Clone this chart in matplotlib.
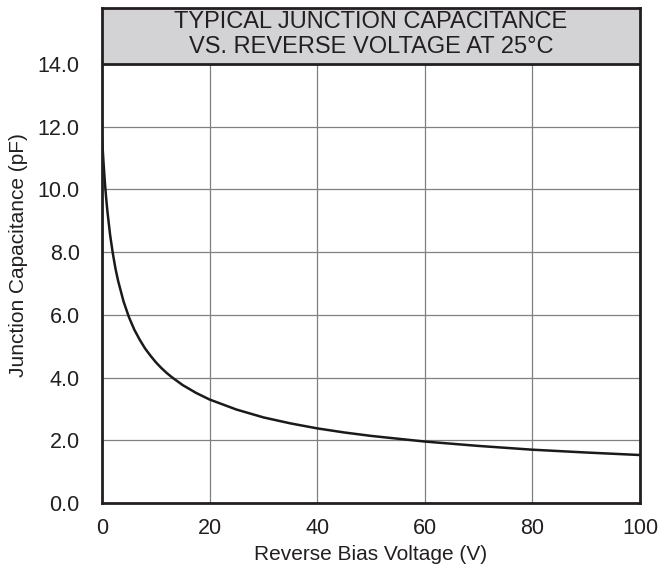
import matplotlib
matplotlib.use("Agg")
import matplotlib.pyplot as plt

plt.rcParams['font.family'] = ['Liberation Sans', 'DejaVu Sans']

# Valores
voltaje = [0, 0.1, 0.25, 0.5, 0.75, 1, 1.5, 2, 2.5, 3, 4, 5, 6, 7, 8, 9, 10,
           11, 12, 13, 15, 17.5, 20, 25, 30, 35, 40, 45, 50, 60, 70, 80, 90, 100]
capacitancia = [11.7, 11.38, 10.94, 10.30, 9.77, 9.31, 8.56, 7.97, 7.48, 7.08,
                6.43, 5.93, 5.53, 5.21, 4.93, 4.70, 4.49, 4.31, 4.15, 4.01,
                3.76, 3.51, 3.30, 2.98, 2.73, 2.54, 2.38, 2.25, 2.14, 1.96,
                1.82, 1.70, 1.61, 1.53]

xticks = [0, 20, 40, 60, 80, 100]
yticks = [0, 2, 4, 6, 8, 10, 12, 14]
titulo = "TYPICAL JUNCTION CAPACITANCE\nVS. REVERSE VOLTAGE AT 25°C"

fig = plt.figure(figsize=(6.64, 5.69), dpi=100)
ax = fig.add_axes([102/664, 1 - 503/569, 538/664, 495/569])

ytop = 14 * 495 / 439
ax.set_xlim(0, 100)
ax.set_ylim(0, ytop)

ax.set_xticks(xticks)
ax.set_yticks(yticks)
ax.set_yticklabels(["{:.1f}".format(v) for v in yticks])
ax.tick_params(length=0, labelsize=15.5, colors='#231f20')
ax.tick_params(axis='y', pad=16)
ax.tick_params(axis='x', pad=11)

ax.grid(True, color='#808080', linewidth=0.9)
ax.set_axisbelow(True)

# Caja del titulo
ax.axhspan(14, ytop, color='#d3d3d5', zorder=1.5)
ax.axhline(14, color='#231f20', linewidth=2.0, zorder=3)
ax.text(50, (14 + ytop) / 2 + 0.04, titulo, ha='center', va='center', fontsize=17,
        color='#231f20', linespacing=1.15, zorder=4)

ax.plot(voltaje, capacitancia, color='#1a1a1a', linewidth=1.8, zorder=2.5)

for s in ax.spines.values():
    s.set_linewidth(2.0)
    s.set_color('#231f20')

ax.set_xlabel('Reverse Bias Voltage (V)', fontsize=15, color='#231f20', labelpad=4)
ax.set_ylabel('Junction Capacitance (pF)', fontsize=15, color='#231f20', labelpad=7)

fig.savefig('out.png', dpi=100)
